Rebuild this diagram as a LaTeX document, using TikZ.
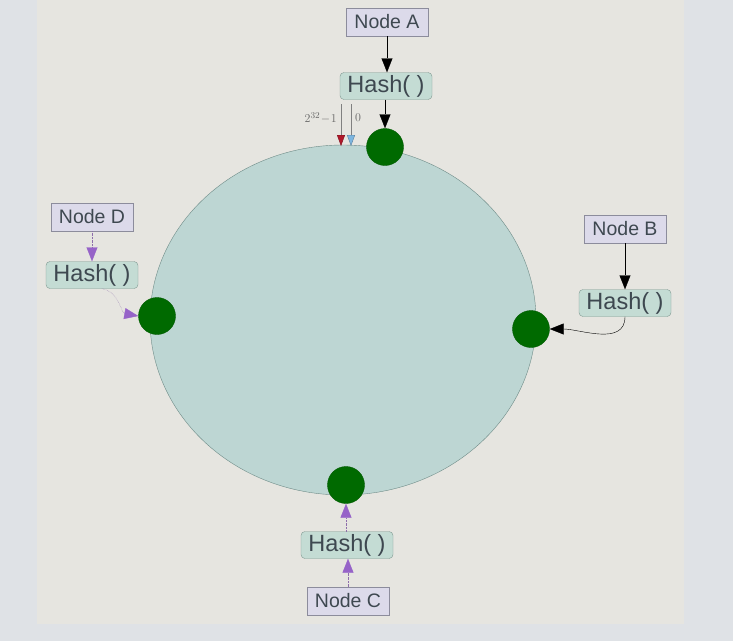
\documentclass[tikz,border=0pt]{standalone}
\usepackage{fontspec}
\setmainfont{Liberation Sans}
\usetikzlibrary{arrows.meta,shapes.geometric}
\definecolor{outerbg}{HTML}{DFE2E6}
\definecolor{panelbg}{HTML}{E6E5E0}
\definecolor{ringfill}{HTML}{BDD6D3}
\definecolor{ringline}{HTML}{6F8C88}
\definecolor{boxfill}{HTML}{DCDAEA}
\definecolor{boxline}{HTML}{8C8C9C}
\definecolor{hashfill}{HTML}{C4DCD4}
\definecolor{hashline}{HTML}{7F9991}
\definecolor{dotgreen}{HTML}{006A00}
\definecolor{txt}{HTML}{3E4850}
\definecolor{lilac}{HTML}{9663C8}
\definecolor{maxred}{HTML}{B0182A}
\definecolor{zeroblue}{HTML}{7DB6E0}
\begin{document}
\begin{tikzpicture}[x=1pt, y=-1pt,
  nodebox/.style={draw=boxline, fill=boxfill, text=txt, font=\fontsize{19.5}{21}\selectfont,
    minimum width=82pt, minimum height=28pt, inner sep=0pt},
  hashbox/.style={draw=hashline, fill=hashfill, rounded corners=4pt, text=txt,
    font=\fontsize{23.5}{25}\selectfont, minimum width=92pt, minimum height=27pt, inner sep=0pt},
  hashpoint/.style={circle, fill=dotgreen, draw=dotgreen!85!black, minimum size=37pt, inner sep=0pt},
  feed/.style={-{Triangle[length=14pt, width=11pt]}},
  lilacfeed/.style={densely dotted, draw=lilac!60!gray, -{Triangle[length=14pt, width=11pt, fill=lilac, color=lilac]}}]
  % background
  \fill[outerbg] (0,0) rectangle (733,641);
  \fill[panelbg] (37,0) rectangle (684,624);

  \node[ellipse, draw=ringline, fill=ringfill, minimum width=386pt, minimum height=350pt, inner sep=0pt] (ring) at (343,320) {};

  \node[hashpoint] (ptA) at (385,147) {};
  \node[hashpoint] (ptB) at (531,329) {};
  \node[hashpoint] (ptC) at (346,485) {};
  \node[hashpoint] (ptD) at (157,316) {};

  \node[nodebox] (nodeA) at (387,22) {Node A};
  \node[hashbox] (hashA) at (386,86) {Hash( )};
  \node[nodebox] (nodeB) at (625,229) {Node B};
  \node[hashbox] (hashB) at (625,303) {Hash( )};
  \node[nodebox] (nodeC) at (348,601) {Node C};
  \node[hashbox] (hashC) at (347,545) {Hash( )};
  \node[nodebox] (nodeD) at (92,217) {Node D};
  \node[hashbox] (hashD) at (92,275) {Hash( )};

  \draw[feed] (nodeA) -- (nodeA |- hashA.north);
  \draw[feed] (hashA.south -| ptA) -- (ptA);
  \draw[feed] (nodeB) -- (hashB);
  \draw[feed] (hashB.south) to[out=-90, in=0] (ptB.east);
  \draw[lilacfeed] (nodeC) -- (nodeC |- hashC.south);
  \draw[lilacfeed] (hashC.north -| ptC) -- (ptC);
  \draw[lilacfeed] (nodeD) -- (hashD);
  \draw[lilacfeed] ([xshift=10pt]hashD.south) to[out=-10, in=170] (ptD.west);

  % start and end of the ring
  \coordinate (maxtop) at (341,104);
  \coordinate (maxend) at (341,146);
  \coordinate (zerotop) at (351,104);
  \coordinate (zeroend) at (351,146);
  \draw[gray, -{Triangle[length=11pt, width=8pt, fill=maxred, color=maxred!70!black]}] (maxtop) -- (maxend);
  \draw[gray, -{Triangle[length=11pt, width=8pt, fill=zeroblue, color=zeroblue!70!black]}] (zerotop) -- (zeroend);
  \node[anchor=east, text=gray!80!black, inner sep=0pt, font=\fontsize{13}{14}\selectfont] (maxlabel) at (337,118) {$2^{32}\!-\!1$};
  \node[anchor=west, text=gray!80!black, inner sep=0pt, font=\fontsize{13}{14}\selectfont] (zerolabel) at (355,118) {$0$};
\end{tikzpicture}
\end{document}
